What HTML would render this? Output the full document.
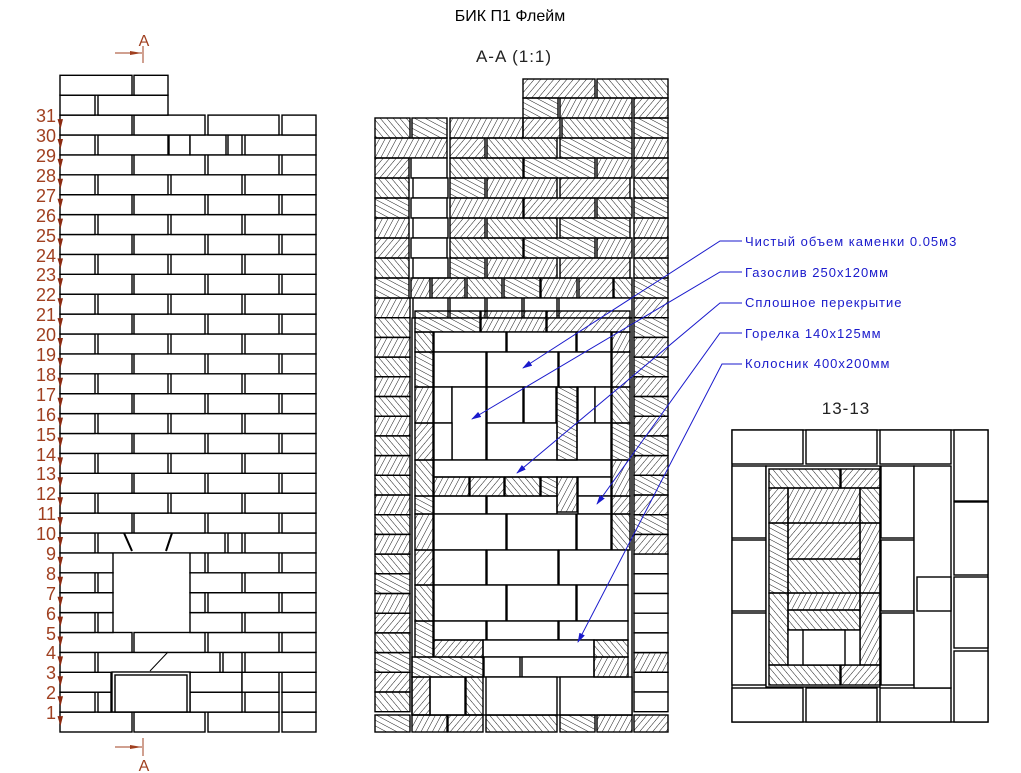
<!DOCTYPE html>
<html><head><meta charset="utf-8"><style>
html,body{margin:0;padding:0;background:#fff;width:1021px;height:773px;overflow:hidden}
svg{display:block}
</style></head><body>
<svg id="s" width="1021" height="773" viewBox="0 0 1021 773" xmlns="http://www.w3.org/2000/svg">
<defs>
<pattern id="h0" width="5" height="5" patternUnits="userSpaceOnUse" patternTransform="rotate(40)"><line x1="0" y1="0" x2="0" y2="5" stroke="#000" stroke-width="0.9"/></pattern>
<pattern id="h1" width="5" height="5" patternUnits="userSpaceOnUse" patternTransform="rotate(-40)"><line x1="0" y1="0" x2="0" y2="5" stroke="#000" stroke-width="0.9"/></pattern>
<pattern id="h2" width="5" height="5" patternUnits="userSpaceOnUse" patternTransform="rotate(-62)"><line x1="0" y1="0" x2="0" y2="5" stroke="#000" stroke-width="0.9"/></pattern>
<pattern id="h3" width="5" height="5" patternUnits="userSpaceOnUse" patternTransform="rotate(28)"><line x1="0" y1="0" x2="0" y2="5" stroke="#000" stroke-width="0.9"/></pattern>
<marker id="ar" markerWidth="10" markerHeight="6" refX="9" refY="3" orient="auto" markerUnits="userSpaceOnUse"><path d="M0,0 L10,3 L0,6 z" fill="#1a1acc"/></marker>
</defs>
<g id="g"></g>
<text x="510" y="21" text-anchor="middle" font-family="Liberation Sans, sans-serif" font-size="16" fill="#000">БИК П1 Флейм</text>
<text x="514" y="62" text-anchor="middle" font-family="Liberation Sans, sans-serif" font-size="17" fill="#222" letter-spacing="1">A-A (1:1)</text>
<text x="846" y="414" text-anchor="middle" font-family="Liberation Sans, sans-serif" font-size="17" fill="#222" letter-spacing="1">13-13</text>
<g font-family="Liberation Sans, sans-serif" font-size="13" fill="#1a1acc" letter-spacing="1">
<text x="745" y="246">Чистый объем каменки 0.05м3</text>
<text x="745" y="277">Газослив 250х120мм</text>
<text x="745" y="307">Сплошное перекрытие</text>
<text x="745" y="338">Горелка 140х125мм</text>
<text x="745" y="368">Колосник 400х200мм</text>
</g>
<g stroke="#1a1acc" stroke-width="1" fill="none">
<polyline points="742,241 720,241 523,368" marker-end="url(#ar)"/>
<polyline points="742,272 720,272 472,419" marker-end="url(#ar)"/>
<polyline points="742,303 720,303 517,473" marker-end="url(#ar)"/>
<polyline points="742,333 720,333 597,504" marker-end="url(#ar)"/>
<polyline points="742,364 722,364 578,642" marker-end="url(#ar)"/>
</g>
<g fill="#a04020" stroke="#a04020" font-family="Liberation Sans, sans-serif" font-size="18">
<text x="144" y="46" text-anchor="middle" stroke="none" font-size="16">A</text>
<line x1="115" y1="53" x2="142" y2="53"/><line x1="143" y1="46" x2="143" y2="63"/>
<path d="M130,51 L142,53 L130,55z" stroke="none"/>
<text x="144" y="771" text-anchor="middle" stroke="none" font-size="16">A</text>
<line x1="115" y1="747" x2="142" y2="747"/><line x1="143" y1="738" x2="143" y2="756"/>
<path d="M130,745 L142,747 L130,749z" stroke="none"/>
</g>
<g id="nums" fill="#a04020" font-family="Liberation Sans, sans-serif" font-size="18" text-anchor="end">
<text x="56" y="719">1</text><text x="56" y="699">2</text><text x="56" y="679">3</text><text x="56" y="659">4</text><text x="56" y="640">5</text><text x="56" y="620">6</text><text x="56" y="600">7</text><text x="56" y="580">8</text><text x="56" y="560">9</text><text x="56" y="540">10</text><text x="56" y="520">11</text><text x="56" y="500">12</text><text x="56" y="480">13</text><text x="56" y="461">14</text><text x="56" y="441">15</text><text x="56" y="421">16</text><text x="56" y="401">17</text><text x="56" y="381">18</text><text x="56" y="361">19</text><text x="56" y="341">20</text><text x="56" y="321">21</text><text x="56" y="301">22</text><text x="56" y="281">23</text><text x="56" y="262">24</text><text x="56" y="242">25</text><text x="56" y="222">26</text><text x="56" y="202">27</text><text x="56" y="182">28</text><text x="56" y="162">29</text><text x="56" y="142">30</text><text x="56" y="122">31</text>
</g>
</svg>
<script>
var g=document.getElementById('g'),NS='http://www.w3.org/2000/svg',hc=0;
function R(x1,y1,x2,y2,f){var r=document.createElementNS(NS,'rect');r.setAttribute('x',x1);r.setAttribute('y',y1);r.setAttribute('width',x2-x1);r.setAttribute('height',y2-y1);
var fill='#fff';if(f==='h'){fill='url(#h'+(hc++%4)+')';}else if(f&&f[0]==='h'){fill='url(#'+f+')';}
r.setAttribute('fill',fill);r.setAttribute('stroke','#000');r.setAttribute('stroke-width','1.4');g.appendChild(r);}
function L(x1,y1,x2,y2,w){var l=document.createElementNS(NS,'line');l.setAttribute('x1',x1);l.setAttribute('y1',y1);l.setAttribute('x2',x2);l.setAttribute('y2',y2);l.setAttribute('stroke','#000');l.setAttribute('stroke-width',w||1);g.appendChild(l);}
// LEFT elevation
var P=19.9,A=[[60,132],[134,205],[208,279],[282,316]],B=[[60,95],[98,168],[171,242],[245,316]];
var sp={33:[[60,132],[134,168]],32:[[60,95],[98,168]],30:[[60,95],[98,168],[169,190],[190,226],[228,242],[245,316]],
10:[[60,95],[98,225],[228,242],[245,316]],9:[[60,113],[190,205],[208,279],[282,316]],8:[[60,95],[98,113],[190,242],[245,316]],
7:[[60,113],[190,205],[208,279],[282,316]],6:[[60,95],[98,113],[190,242],[245,316]],4:[[60,95],[98,220],[223,242],[245,316]],
3:[[60,111],[190,242],[242,279],[282,316]],2:[[60,95],[98,111],[190,242],[245,279],[282,316]]};
for(var k=1;k<=33;k++){var y=732-P*k,arr=sp[k]||(k%2?A:B);arr.forEach(function(b){R(b[0],y,b[1],y+P,'w');});}
R(112,672,190,712,'w');R(115,675,187,712,'w');
L(124,533,132,551,2);L(172,533,166,551,2);L(168,652,150,671,1);
// arrows left
for(var k=1;k<=31;k++){var yy=732-P*k+4;var p=document.createElementNS(NS,'path');p.setAttribute('d','M57.5,'+yy+' L63,'+yy+' L60.5,'+(yy+10)+'z');p.setAttribute('fill','#8b2a10');g.appendChild(p);}
// MIDDLE section
var H='h',W='w';
[[523,79,595,98,H],[597,79,668,98,H],[523,98,558,118,H],[560,98,632,118,H],[634,98,668,118,H],
[375,118,410,138,H],[412,118,447,138,H],[450,118,523,138,H],[523,118,560,138,H],[562,118,632,138,H],[634,118,668,138,H],
[375,138,447,158,H],[450,138,485,158,H],[487,138,557,158,H],[560,138,632,158,H],[634,138,668,158,H]].forEach(function(b){R.apply(null,b);});
var pa=[[[450,523],[524,595],[597,632]],[[450,485],[487,557],[560,630]]];
for(var i=0;i<6;i++){var y=158+i*20;R(375,y,409,y+20,H);R(i%2?413:411,y,i%2?448:447,y+20,W);pa[i%2].forEach(function(b){R(b[0],y,b[1],y+20,H);});R(634,y,668,y+20,H);}
[[375,278,409,298],[411,278,430,298],[432,278,465,298],[467,278,502,298],[504,278,540,298],[541,278,577,298],[579,278,613,298],[614,278,632,298],[634,278,668,298]].forEach(function(b){R(b[0],b[1],b[2],b[3],H);});
[[413,298,448,318],[450,298,485,318],[487,298,522,318],[524,298,557,318],[559,298,632,318]].forEach(function(b){R(b[0],b[1],b[2],b[3],W);});
for(var i=0;i<21;i++){var y=298+i*19.7;R(375,y,410,y+19.7,H);var wy=(y>=552&&y<637)||(y>=672&&y<712);R(634,y,668,y+19.7,wy?W:H);}
R(412,318,632,715,W);
[[415,311,480,332,H],[481,311,546,332,H],[547,311,630,332,H]].forEach(function(b){R.apply(null,b);});
[[332,352],[352,387],[387,423],[423,460],[460,496],[496,514],[514,550],[550,585],[585,621],[621,657]].forEach(function(s){R(415,s[0],433,s[1],H);});
[[332,352],[352,387],[387,423],[423,460],[460,496],[496,514],[514,550]].forEach(function(s){R(612,s[0],630,s[1],H);});
[[434,332,506,352],[507,332,576,352],[577,332,611,352],[434,352,486,387],[487,352,558,387],[559,352,611,387],
[434,387,452,423],[452,387,486,460],[487,387,523,423],[524,387,556,423],[578,387,595,423],[595,387,611,423],
[434,423,452,460],[487,423,557,460],[577,423,611,460],[434,460,611,477],[578,477,611,496],
[434,496,486,514],[487,496,557,514],[578,496,611,514],[434,514,506,550],[507,514,576,550],[577,514,611,550],
[434,550,486,585],[487,550,558,585],[559,550,628,585],[434,585,506,621],[507,585,576,621],[577,585,628,621],
[434,621,486,640],[487,621,558,640],[559,621,628,640],[483,640,594,657],[484,657,520,677],[522,657,594,677],
[430,677,465,715],[486,677,557,715],[560,677,632,715]].forEach(function(b){R(b[0],b[1],b[2],b[3],W);});
[[557,387,577,460],[434,477,469,496],[470,477,504,496],[505,477,540,496],[541,477,557,496],[557,477,577,512],
[434,640,483,657],[594,640,628,657],[412,657,483,677],[594,657,628,677],[412,677,430,715],[466,677,483,715],
[375,715,410,732],[412,715,447,732],[448,715,483,732],[486,715,557,732],[560,715,595,732],[597,715,632,732],[634,715,668,732]].forEach(function(b){R(b[0],b[1],b[2],b[3],H);});
// RIGHT plan 13-13
R(732,430,988,722,W);
[[732,430,803,464],[806,430,877,464],[880,430,951,464],[732,688,803,722],[806,688,877,722],[880,688,951,722],
[954,430,988,501],[954,502,988,575],[954,577,988,648],[954,651,988,722],
[732,466,766,538],[732,540,766,611],[732,613,766,685],[881,466,914,538],[881,540,914,611],[881,613,914,685],
[914,466,951,688],[917,577,951,611],[766,466,880,687]].forEach(function(b){R(b[0],b[1],b[2],b[3],W);});
[[769,469,840,488,'h1'],[841,469,880,488,'h0'],[769,488,788,523,'h0'],[860,488,880,523,'h1'],[788,488,860,523,'h3'],
[769,523,788,593,'h2'],[860,523,880,593,'h3'],[788,523,860,559,'h0'],[788,559,860,593,'h1'],
[769,593,788,665,'h1'],[860,593,880,665,'h3'],[788,593,860,610,'h3'],[788,610,860,630,'h1'],
[769,665,840,685,'h1'],[841,665,880,685,'h0']].forEach(function(b){R.apply(null,b);});
R(788,630,860,665,W);R(803,630,845,665,W);
</script>
</body></html>
